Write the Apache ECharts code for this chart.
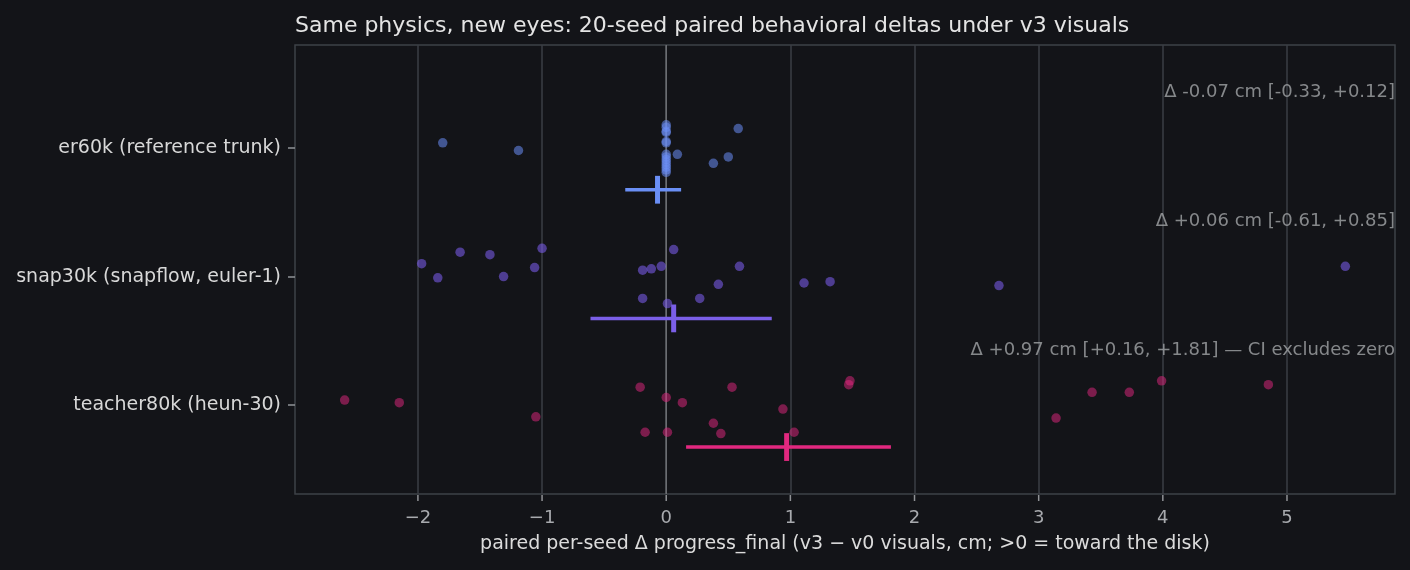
<!DOCTYPE html>
<html>
<head>
<meta charset="utf-8">
<script src="https://cdn.jsdelivr.net/npm/echarts@6/dist/echarts.min.js"></script>
<style>
html,body{margin:0;padding:0;background:#131418;}
#c{width:1410px;height:570px;}
</style>
</head>
<body>
<div id="c"></div>
<script>
// ---- data ----
const categories = ['teacher80k (heun-30)', 'snap30k (snapflow, euler-1)', 'er60k (reference trunk)'];
const xTicks = [-2, -1, 0, 1, 2, 3, 4, 5];

// er60k (row 2)
const erDelta  = [-1.80, -1.19, 0.09, 0.58, 0.38, 0.50, 0, 0, 0, 0, 0, 0, 0, 0, 0, 0, 0, 0, 0, 0];
const erJitter = [0.04, -0.02, -0.05, 0.15, -0.12, -0.07, 0.18, 0.16, 0.13, 0.12, 0.05, 0.04, -0.07, -0.09, -0.11, -0.13, -0.15, -0.17, -0.19, -0.05];

// snap30k (row 1)
const snapDelta  = [-1.97, -1.84, -1.66, -1.42, -1.31, -1.06, -1.00, -0.19, -0.12, -0.04, 0.06, 0.59, 0.42, 0.27, -0.19, 0.01, 1.11, 1.32, 2.68, 5.47];
const snapJitter = [0.10, -0.01, 0.19, 0.17, 0.00, 0.07, 0.22, 0.05, 0.06, 0.08, 0.21, 0.08, -0.06, -0.17, -0.17, -0.21, -0.05, -0.04, -0.07, 0.08];

// teacher80k (row 0)
const teachDelta  = [-2.59, -2.15, -1.05, -0.21, 0.00, 0.13, 0.53, 0.94, 1.48, 1.47, -0.17, 0.01, 0.38, 0.44, 1.03, 3.43, 3.73, 3.99, 4.85, 3.14];
const teachJitter = [0.04, 0.02, -0.09, 0.14, 0.06, 0.02, 0.14, -0.03, 0.19, 0.16, -0.21, -0.21, -0.14, -0.22, -0.21, 0.10, 0.10, 0.19, 0.16, -0.10];

// summary (teacher, snap, er)
const means = [0.97, 0.06, -0.07];
const ciLo  = [0.16, -0.61, -0.33];
const ciHi  = [1.81, 0.85, 0.12];
const notes = [
  'Δ +0.97 cm [+0.16, +1.81] — CI excludes zero',
  'Δ +0.06 cm [-0.61, +0.85]',
  'Δ -0.07 cm [-0.33, +0.12]'
];

// ---- style ----
const dotColors = ['rgba(226,40,127,0.64)', 'rgba(124,94,240,0.7)', 'rgba(107,143,247,0.68)'];
const ciColors  = ['#e2287f', '#7b5fe8', '#6a8ff5'];
const X_MIN = -2.99, X_MAX = 5.87, Y_MIN = -0.69, Y_MAX = 2.8;
const CI_OFF = -0.325, TICK_HALF = 0.108, NOTE_OFF = 0.43;
const FONT = 'DejaVu Sans';

const groups = [[teachDelta, teachJitter], [snapDelta, snapJitter], [erDelta, erJitter]];

const series = [];
groups.forEach((g, row) => {
  series.push({
    type: 'scatter',
    symbolSize: 9.5,
    itemStyle: { color: dotColors[row] },
    data: g[0].map((d, i) => [d, row + g[1][i]]),
    z: 3
  });
});

// zero line
series.push({
  type: 'line',
  data: [[0, Y_MIN], [0, Y_MAX]],
  symbol: 'none',
  lineStyle: { color: '#6e7074', width: 1.5 },
  z: 2,
  silent: true
});

// CI bars
series.push({
  type: 'custom',
  z: 4,
  silent: true,
  data: means.map((m, row) => [m, ciLo[row], ciHi[row], row]),
  renderItem: function (params, api) {
    const m = api.value(0), lo = api.value(1), hi = api.value(2), row = api.value(3);
    const y = row + CI_OFF;
    const pLo = api.coord([lo, y]);
    const pHi = api.coord([hi, y]);
    const pT = api.coord([m, y + TICK_HALF]);
    const pB = api.coord([m, y - TICK_HALF]);
    const c = ciColors[row];
    return {
      type: 'group',
      children: [
        { type: 'line', shape: { x1: pLo[0], y1: pLo[1], x2: pHi[0], y2: pHi[1] }, style: { stroke: c, lineWidth: 3.5 } },
        { type: 'line', shape: { x1: pT[0], y1: pT[1], x2: pB[0], y2: pB[1] }, style: { stroke: c, lineWidth: 5 } }
      ]
    };
  }
});

// x-axis tick marks (outside, below the frame)
series.push({
  type: 'custom',
  z: 6,
  silent: true,
  clip: false,
  data: xTicks.map(v => [v, Y_MIN]),
  renderItem: function (params, api) {
    const p = api.coord([api.value(0), api.value(1)]);
    return {
      type: 'rect',
      shape: { x: p[0] - 0.75, y: p[1] + 1, width: 1.5, height: 6 },
      style: { fill: '#909296' }
    };
  }
});

// annotations
series.push({
  type: 'scatter',
  symbolSize: 0,
  silent: true,
  data: notes.map((t, row) => ({ value: [X_MAX, row + NOTE_OFF], name: t })),
  label: {
    show: true,
    position: 'left',
    distance: 0,
    formatter: p => p.name,
    color: '#a3a5a8',
    fontSize: 18,
    fontFamily: FONT
  },
  z: 5
});

const chart = echarts.init(document.getElementById('c'), null, { renderer: 'canvas' });
chart.setOption({
  backgroundColor: '#131418',
  animation: false,
  title: {
    text: 'Same physics, new eyes: 20-seed paired behavioral deltas under v3 visuals',
    left: 290,
    top: 10,
    textStyle: { color: '#e4e4e4', fontSize: 22, fontWeight: 'normal', fontFamily: FONT }
  },
  grid: {
    left: 295, right: 15, top: 45, bottom: 76,
    show: true, borderColor: '#3e4147', borderWidth: 1.5, backgroundColor: 'transparent'
  },
  xAxis: {
    type: 'value',
    min: X_MIN, max: X_MAX,
    name: 'paired per-seed Δ progress_final (v3 − v0 visuals, cm; >0 = toward the disk)',
    nameLocation: 'middle',
    nameGap: 41,
    nameTextStyle: { color: '#dcdcdc', fontSize: 19, fontFamily: FONT },
    axisLine: { show: false, onZero: false },
    axisTick: { show: false, customValues: xTicks },
    axisLabel: {
      color: '#a8aaae', fontSize: 18, fontFamily: FONT, margin: 15,
      customValues: xTicks,
      formatter: v => (v < 0 ? '−' + Math.abs(v) : String(v))
    },
    splitLine: { show: true, lineStyle: { color: '#3b3e44', width: 1.5 } }
  },
  yAxis: {
    type: 'value',
    min: Y_MIN, max: Y_MAX,
    axisLine: { show: false, onZero: false },
    axisTick: { show: true, length: 7, lineStyle: { color: '#909296', width: 1.5 }, customValues: [0, 1, 2] },
    axisLabel: {
      color: '#d8d8d8', fontSize: 19, fontFamily: FONT, margin: 14,
      customValues: [0, 1, 2],
      formatter: v => categories[Math.round(v)] || ''
    },
    splitLine: { show: false }
  },
  series: series
});
</script>
</body>
</html>
